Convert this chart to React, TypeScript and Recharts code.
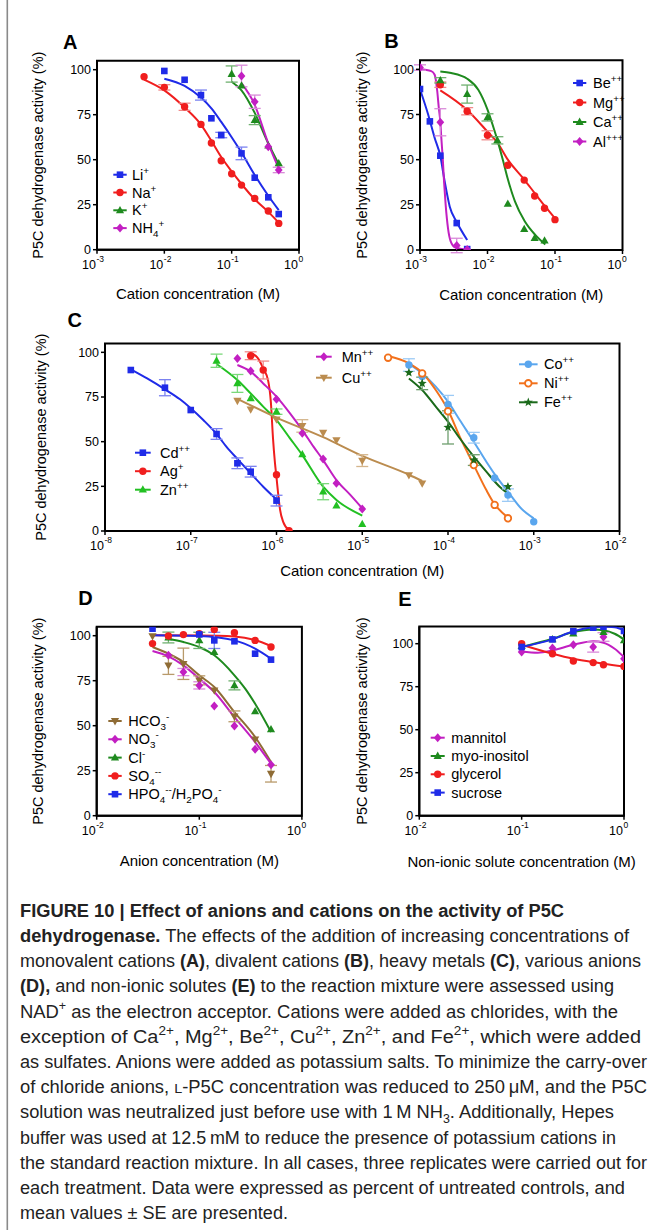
import React from 'react';
import { ComposedChart, Line, Scatter, XAxis, YAxis, ErrorBar, ReferenceArea, Legend } from 'recharts';

const FONT = '"Liberation Sans", Arial, Helvetica, sans-serif';

// ---------- Panel A (monovalent cations) ----------
const A_LI = [[0.01, 99.3], [0.02, 94.4], [0.035, 85.9, 2.8], [0.05, 73.0], [0.07, 63.7, 1.5], [0.14, 53.5, 3.5], [0.22, 40.0], [0.35, 29.1], [0.5, 19.8]];
const A_LI_FIT = [[0.01, 95], [0.02, 91], [0.035, 84.5], [0.05, 78.5], [0.07, 71], [0.1, 62.5], [0.14, 54], [0.22, 41.5], [0.35, 30], [0.5, 22]];
const A_NA = [[0.005, 96.1], [0.01, 90.2, 1.5], [0.02, 79.4, 2], [0.035, 69.6], [0.05, 59.3], [0.07, 49.4], [0.1, 42.2], [0.14, 35.9], [0.22, 28.5], [0.35, 21.5], [0.5, 14.6]];
const A_NA_FIT = [[0.005, 94.5], [0.01, 88.5], [0.02, 79], [0.035, 69.5], [0.05, 60.5], [0.07, 51.5], [0.1, 43.5], [0.14, 36.5], [0.22, 28], [0.35, 21], [0.5, 15]];
const A_K = [[0.1, 97.6, 4.5], [0.14, 91.1], [0.22, 72.0, 2.5], [0.35, 57.8], [0.5, 48.0]];
const A_K_FIT = [[0.1, 93.3], [0.14, 88.5], [0.22, 76], [0.35, 59], [0.5, 47.5]];
const A_NH4 = [[0.14, 96.5, 6], [0.22, 82.2, 3.7], [0.35, 57.2], [0.5, 44.3, 1.5]];
const A_NH4_FIT = [[0.14, 92.5], [0.22, 80.5], [0.35, 59], [0.5, 45]];

// ---------- Panel B (divalent cations) ----------
const B_BE = [[0.001, 89.1], [0.0014, 71.2], [0.002, 52.2], [0.0035, 14.9], [0.005, 0.5]];
const B_BE_FIT = [[0.001, 89], [0.00132, 75], [0.00165, 62], [0.002, 52], [0.00232, 38], [0.00276, 24], [0.0035, 15.5], [0.005, 5.5]];
const B_MG = [[0.002, 91.5, 1.5], [0.005, 76.8, 2], [0.01, 63.5, 2.5], [0.02, 46.9], [0.035, 38.7], [0.05, 29.9], [0.07, 23.1], [0.1, 16.8]];
const B_MG_FIT = [[0.002, 88.4], [0.005, 77.5], [0.01, 65.5], [0.014, 59.5], [0.02, 50], [0.035, 39], [0.05, 31.5], [0.07, 24.5], [0.1, 17.5]];
const B_CA = [[0.002, 93.9, 1.5], [0.005, 86.3, 5], [0.01, 73.4, 2], [0.014, 60.7, 2], [0.02, 25.5], [0.035, 11.6], [0.05, 6.6], [0.07, 5.2]];
const B_CA_FIT = [[0.002, 98.8], [0.0029, 98], [0.005, 94.8], [0.0073, 88.7], [0.01, 77.7], [0.0121, 68.5], [0.0142, 60.1], [0.0171, 49.1], [0.0198, 39.9], [0.0255, 26.9], [0.0356, 15.9], [0.0506, 8.5], [0.0718, 3]];
const B_AL = [[0.001, 101, 1.5], [0.002, 70.7, 7.5], [0.0035, 2.5, 4], [0.005, 0.3]];
const B_AL_FIT = [[0.001, 100], [0.00147, 99], [0.00165, 97], [0.0018, 88], [0.0019, 78.6], [0.002, 71], [0.00207, 62], [0.00217, 51], [0.00227, 38], [0.0024, 25], [0.0026, 12], [0.00285, 4.8], [0.0033, 1.5], [0.005, 0.1]];

// ---------- Panel C (heavy metals) ----------
const C_CD = [[2e-8, 90.1], [5e-8, 80.2, 4.5], [1e-7, 67.7], [2e-7, 54.3, 3], [3.5e-7, 37.9, 3], [5e-7, 33.2, 3], [1e-6, 17.0, 3]];
const C_CD_FIT = [[2e-8, 90.5], [3.1e-8, 85.4], [5e-8, 79.3], [7.5e-8, 73.7], [1e-7, 68.7], [1.4e-7, 62.1], [2e-7, 54.3], [2.6e-7, 47.2], [3.6e-7, 39.7], [5e-7, 32.3], [7e-7, 24.8], [1e-6, 17.7]];
const C_AG = [[5e-7, 98.1, 2.2], [7e-7, 90.1, 5], [1e-6, 31.5], [1.4e-6, 0.2]];
const C_AG_FIT = [[5e-7, 99.5], [6e-7, 97], [7e-7, 91], [8e-7, 84], [8.6e-7, 72], [9.1e-7, 52], [9.6e-7, 38], [1e-6, 30], [1.05e-6, 20], [1.1e-6, 12], [1.2e-6, 5], [1.4e-6, 0.5]];
const C_ZN = [[2e-7, 95.3, 3.7], [3.5e-7, 82.6, 5], [5e-7, 74.3], [1e-6, 66.8, 1.5], [2e-6, 42.9], [3.5e-6, 22.0, 4.5], [5e-6, 14.2], [1e-5, 3.9]];
const C_ZN_FIT = [[2e-7, 93.5], [3.5e-7, 84.5], [5e-7, 77], [7e-7, 69.6], [1e-6, 62.1], [1.43e-6, 52], [2e-6, 42.5], [3.5e-6, 24.8], [5e-6, 17.4], [1e-5, 8.6]];
const C_MN = [[3.5e-7, 96.6], [5e-7, 89.6], [1e-6, 73.7], [2e-6, 54.7], [3.5e-6, 40.3], [5e-6, 26.7], [1e-5, 12.3]];
const C_MN_FIT = [[3.5e-7, 92.9], [5e-7, 89.2], [7e-7, 82.6], [1e-6, 75.2], [1.43e-6, 66], [2e-6, 56.5], [2.7e-6, 47.2], [3.5e-6, 39.7], [5e-6, 28.5], [7.3e-6, 20.1], [1e-5, 12.7]];
const C_CU = [[3.5e-7, 72.9], [5e-7, 68.1], [1e-6, 62.5], [2e-6, 58.8, 3.5], [3.5e-6, 55.0], [5e-6, 50.9], [1e-5, 39.4, 3.3], [3.5e-5, 31.3], [5e-5, 26.7]];
const C_CU_FIT = [[3.5e-7, 74], [1e-6, 63.5], [3.5e-6, 52.5], [1e-5, 42], [3.5e-5, 31.5], [5e-5, 28]];
const C_CO = [[3.5e-5, 92.9, 3.5], [5e-5, 86.5], [1e-4, 70.9, 5], [2e-4, 52.2, 3], [3.5e-4, 29.7], [5e-4, 20.1, 3.5], [1e-3, 5.2]];
const C_CO_FIT = [[3.5e-5, 93.5], [5e-5, 88.2], [7.2e-5, 80.8], [1e-4, 72.4], [1.37e-4, 62.1], [2e-4, 50], [2.8e-4, 38.8], [3.6e-4, 31], [5e-4, 22], [7.1e-4, 12.7], [1e-3, 7.1]];
const C_NI = [[2e-5, 97.0], [5e-5, 88.2], [1e-4, 67], [2e-4, 36.9], [3.5e-4, 14.6], [5e-4, 7.1]];
const C_NI_FIT = [[2e-5, 97.9], [3.5e-5, 93.8], [5e-5, 88.6], [7.2e-5, 78.9], [1e-4, 67.7], [1.37e-4, 52.8], [2e-4, 36.9], [2.8e-4, 22.9], [3.44e-4, 15.5], [5e-4, 7.5]];
const C_FE = [[3.5e-5, 88.6], [5e-5, 82.6, 3.5], [1e-4, 58.0, 9.3], [2e-4, 39.7, 3], [5e-4, 24.8]];
const C_FE_FIT = [[3.5e-5, 85.4], [5e-5, 78.9], [7.2e-5, 69.6], [1e-4, 61.2], [1.37e-4, 51.9], [2e-4, 41.6], [2.8e-4, 33.2], [4e-4, 24.8], [5e-4, 21]];

// ---------- Panel D (anions) ----------
const D_HCO3 = [[0.035, 99.8], [0.05, 83.5, 5], [0.07, 84.4, 8.7], [0.1, 75.2, 2.5], [0.14, 69.6], [0.22, 55.2, 3], [0.35, 42.4], [0.5, 23.3, 4.6]];
const D_HCO3_FIT = [[0.035, 93.7], [0.05, 90], [0.07, 85.4], [0.1, 78], [0.14, 71.5], [0.22, 57.6], [0.35, 43.7], [0.5, 29.8]];
const D_NO3 = [[0.05, 89.1], [0.07, 79.8, 2], [0.1, 72.4, 2], [0.14, 60.9], [0.22, 49.8], [0.35, 36.9], [0.5, 28.3]];
const D_NO3_FIT = [[0.035, 91.5], [0.05, 88.5], [0.07, 83.5], [0.1, 76.1], [0.14, 68.7], [0.22, 54.8], [0.35, 40.9], [0.5, 28.9]];
const D_CL = [[0.05, 99, 3], [0.1, 97.4, 4.5], [0.14, 90.9], [0.22, 72.4, 2.5], [0.35, 58], [0.5, 48]];
const D_CL_FIT = [[0.05, 98.3], [0.07, 96.5], [0.1, 93.7], [0.14, 89.1], [0.22, 78], [0.28, 70.6], [0.35, 62.2], [0.5, 46.5]];
const D_SO4 = [[0.035, 95.6], [0.05, 99.8], [0.07, 100.6], [0.1, 101.1], [0.14, 103.5], [0.22, 101.7], [0.35, 97.4], [0.5, 93.7]];
const D_SO4_FIT = [[0.035, 100.2], [0.1, 100.1], [0.22, 99.6], [0.35, 97.6], [0.5, 94.3]];
const D_HPO4 = [[0.035, 103.9], [0.1, 100.7], [0.14, 97.4, 4.5], [0.22, 96.9], [0.35, 90], [0.5, 86.7]];
const D_HPO4_FIT = [[0.035, 100.2], [0.1, 99.8], [0.22, 97.4], [0.35, 92.8], [0.5, 87.2]];

// ---------- Panel E (non-ionic solutes) ----------
const E_MAN = [[0.1, 95.2], [0.2, 97.5], [0.32, 99.4], [0.5, 98.1, 3], [0.63, 103.9, 2.5], [1, 91.3]];
const E_MAN_FIT = [[0.1, 95.5], [0.144, 94.8], [0.2, 96.1], [0.32, 99.4], [0.5, 101.4], [0.63, 100.6], [0.81, 97.1], [1, 92.2]];
const E_MYO = [[0.1, 98.6], [0.2, 102.5], [0.32, 105.8], [0.5, 109.7], [0.63, 106.8], [1, 101.9]];
const E_MYO_FIT = [[0.1, 98.1], [0.2, 102.9], [0.32, 106.8], [0.5, 108.3], [0.63, 107.8], [0.81, 105.8], [1, 102.5]];
const E_GLY = [[0.1, 100], [0.2, 94.2], [0.32, 89.9], [0.5, 89], [0.63, 87.8], [1, 86.8]];
const E_GLY_FIT = [[0.1, 99.4], [0.2, 94.2], [0.32, 91.3], [0.5, 89.3], [0.63, 88.4], [1, 86.8]];
const E_SUC = [[0.1, 98.1], [0.2, 102.5], [0.32, 107.2], [0.5, 109.3], [0.63, 109.9], [1, 107.4]];
const E_SUC_FIT = [[0.1, 98.1], [0.2, 102.5], [0.32, 107.2], [0.5, 109.6], [0.63, 110], [0.81, 109.6], [1, 107.8]];

// ---------- axis ticks ----------
const TICKS_A = [1e-3, 1e-2, 1e-1, 1];
const TICKS_C = [1e-8, 1e-7, 1e-6, 1e-5, 1e-4, 1e-3, 1e-2];
const TICKS_D = [1e-2, 1e-1, 1];
const Y_TICKS = [0, 25, 50, 75, 100];

type Seg = [string, string?];
type Kind = 'square' | 'circle' | 'tri' | 'triDown' | 'diamond' | 'star' | 'ring';
const toPts = (rows: number[][]) => rows.map(([x, y, e]) => ({ x, y, e }));

const BLUE = '#1f2be8', RED = '#f01e1e', GREEN = '#1e8a1e', MAG = '#c21fc2', ZN = '#22c022', TAN = '#bb8c4f', BROWN = '#8f6c35', LBLUE = '#5aa6ee', ORANGE = '#f2711c', DKGREEN = '#1b6a1b';
const ERR: Record<string, string> = { [BLUE]: '#7b82f0', [RED]: '#f08a8a', [GREEN]: '#6fb06f', [MAG]: '#d98ad9', [ZN]: '#7ad87a', [TAN]: '#d4b58c', [BROWN]: '#b89a6a', [LBLUE]: '#9ccaf5', [ORANGE]: '#f5aa78', [DKGREEN]: '#6e9e6e' };

const ser = (label: Seg[], color: string, shape: Kind, pts: number[][], fit: number[][]) => ({ label, color, shape, pts: toPts(pts), fit: toPts(fit) });

const PANELS = [
  {
    letter: 'A', lx: 63, ly: 49.3,
    box: { left: 0, top: 20, width: 330, height: 290 }, plot: { l: 97, r: 299, t: 60.7, b: 249.7 },
    xDomain: [1e-3, 1], xTicks: TICKS_A, yDomain: [0, 105], yTitleX: 38, xTitleBase: 299.3, xTitle: 'Cation concentration (M)',
    series: [
      ser([['Li'], ['+', 'sup']], BLUE, 'square', A_LI, A_LI_FIT),
      ser([['Na'], ['+', 'sup']], RED, 'circle', A_NA, A_NA_FIT),
      ser([['K'], ['+', 'sup']], GREEN, 'tri', A_K, A_K_FIT),
      ser([['NH'], ['4', 'sub'], ['+', 'sup']], MAG, 'diamond', A_NH4, A_NH4_FIT),
    ],
    legends: [{ idx: [0, 1, 2, 3], x0: 113.3, x1: 126.7, tx: 132, y0: 174.7, dy: 17.8 }],
  },
  {
    letter: 'B', lx: 384.3, ly: 48.3,
    box: { left: 330, top: 20, width: 325, height: 290 }, plot: { l: 420, r: 622.5, t: 60.3, b: 250 },
    xDomain: [1e-3, 1], xTicks: TICKS_A, yDomain: [0, 105], yTitleX: 361.7, xTitleBase: 299.5, xTitle: 'Cation concentration (M)',
    series: [
      ser([['Be'], ['++', 'sup']], BLUE, 'square', B_BE, B_BE_FIT),
      ser([['Mg'], ['++', 'sup']], RED, 'circle', B_MG, B_MG_FIT),
      ser([['Ca'], ['++', 'sup']], GREEN, 'tri', B_CA, B_CA_FIT),
      ser([['Al'], ['+++', 'sup']], MAG, 'diamond', B_AL, B_AL_FIT),
    ],
    legends: [{ idx: [0, 1, 2, 3], x0: 573, x1: 586.3, tx: 593, y0: 83, dy: 19.5 }],
  },
  {
    letter: 'C', lx: 67.6, ly: 326.7,
    box: { left: 0, top: 305, width: 655, height: 280 }, plot: { l: 105, r: 619.5, t: 343.4, b: 531 },
    xDomain: [1e-8, 1e-2], xTicks: TICKS_C, yDomain: [0, 105], yTitleX: 40.5, xTitleBase: 576, xTitle: 'Cation concentration (M)',
    series: [
      ser([['Cd'], ['++', 'sup']], BLUE, 'square', C_CD, C_CD_FIT),
      ser([['Ag'], ['+', 'sup']], RED, 'circle', C_AG, C_AG_FIT),
      ser([['Zn'], ['++', 'sup']], ZN, 'tri', C_ZN, C_ZN_FIT),
      ser([['Mn'], ['++', 'sup']], MAG, 'diamond', C_MN, C_MN_FIT),
      ser([['Cu'], ['++', 'sup']], TAN, 'triDown', C_CU, C_CU_FIT),
      ser([['Co'], ['++', 'sup']], LBLUE, 'circle', C_CO, C_CO_FIT),
      ser([['Ni'], ['++', 'sup']], ORANGE, 'ring', C_NI, C_NI_FIT),
      ser([['Fe'], ['++', 'sup']], DKGREEN, 'star', C_FE, C_FE_FIT),
    ],
    legends: [
      { idx: [0, 1, 2], x0: 135, x1: 150.7, tx: 160, y0: 452.7, dy: 18.5 },
      { idx: [3, 4], x0: 316, x1: 331.7, tx: 341.7, y0: 356.7, dy: 21 },
      { idx: [5, 6, 7], x0: 519, x1: 537.6, tx: 544, y0: 364.3, dy: 19 },
    ],
  },
  {
    letter: 'D', lx: 78.3, ly: 605,
    box: { left: 0, top: 585, width: 330, height: 285 }, plot: { l: 96.7, r: 301.9, t: 626.7, b: 815.7 },
    xDomain: [1e-2, 1], xTicks: TICKS_D, yDomain: [0, 105], yTitleX: 38.3, xTitleBase: 865.7, xTitle: 'Anion concentration (M)',
    series: [
      ser([['HCO'], ['3', 'sub'], ['-', 'sup']], BROWN, 'triDown', D_HCO3, D_HCO3_FIT),
      ser([['NO'], ['3', 'sub'], ['-', 'sup']], MAG, 'diamond', D_NO3, D_NO3_FIT),
      ser([['Cl'], ['-', 'sup']], GREEN, 'tri', D_CL, D_CL_FIT),
      ser([['SO'], ['4', 'sub'], ['--', 'sup']], RED, 'circle', D_SO4, D_SO4_FIT),
      ser([['HPO'], ['4', 'sub'], ['--', 'sup'], ['/H'], ['2', 'sub'], ['PO'], ['4', 'sub'], ['-', 'sup']], BLUE, 'square', D_HPO4, D_HPO4_FIT),
    ],
    legends: [{ idx: [0, 1, 2, 3, 4], x0: 108.3, x1: 121.7, tx: 128.3, y0: 721, dy: 18.3 }],
  },
  {
    letter: 'E', lx: 398.3, ly: 605.7,
    box: { left: 330, top: 585, width: 325, height: 285 }, plot: { l: 419.3, r: 624, t: 626.5, b: 815.7 },
    xDomain: [1e-2, 1], xTicks: TICKS_D, yDomain: [0, 110], yTitleX: 362.3, xTitleBase: 866.5, xTitle: 'Non-ionic solute concentration (M)',
    series: [
      ser([['mannitol']], MAG, 'diamond', E_MAN, E_MAN_FIT),
      ser([['myo-inositol']], GREEN, 'tri', E_MYO, E_MYO_FIT),
      ser([['glycerol']], RED, 'circle', E_GLY, E_GLY_FIT),
      ser([['sucrose']], BLUE, 'square', E_SUC, E_SUC_FIT),
    ],
    legends: [{ idx: [0, 1, 2, 3], x0: 430.7, x1: 444.7, tx: 451.3, y0: 737.7, dy: 18.3 }],
  },
];

// ---------- caption ----------
const CAPTION: Seg[][] = [
  [['FIGURE 10 | Effect of anions and cations on the activity of P5C', 'b']],
  [['dehydrogenase.', 'b'], [' The effects of the addition of increasing concentrations of']],
  [['monovalent cations '], ['(A)', 'b'], [', divalent cations '], ['(B)', 'b'], [', heavy metals '], ['(C)', 'b'], [', various anions']],
  [['(D),', 'b'], [' and non-ionic solutes '], ['(E)', 'b'], [' to the reaction mixture were assessed using']],
  [['NAD'], ['+', 'sup'], [' as the electron acceptor. Cations were added as chlorides, with the']],
  [['exception of Ca'], ['2+', 'sup'], [', Mg'], ['2+', 'sup'], [', Be'], ['2+', 'sup'], [', Cu'], ['2+', 'sup'], [', Zn'], ['2+', 'sup'], [', and Fe'], ['2+', 'sup'], [', which were added']],
  [['as sulfates. Anions were added as potassium salts. To minimize the carry-over']],
  [['of chloride anions, '], ['L', 'sc'], ['-P5C concentration was reduced to 250\u2009\u03bcM, and the P5C']],
  [['solution was neutralized just before use with 1\u2009M NH'], ['3', 'sub'], ['. Additionally, Hepes']],
  [['buffer was used at 12.5\u2009mM to reduce the presence of potassium cations in']],
  [['the standard reaction mixture. In all cases, three replicates were carried out for']],
  [['each treatment. Data were expressed as percent of untreated controls, and']],
  [['mean values \u00b1 SE are presented.']],
];
const CAPTION_WIDTHS = [544, 609, 621, 594, 598, 621, 627, 627, 594, 596, 627, 605, 268];

function rich(segs: Seg[], fs: number) {
  let shift = 0;
  return segs.map(([t, k], i) => {
    const target = k === 'sup' ? -0.42 * fs : k === 'sub' ? 0.25 * fs : 0;
    const dy = target - shift;
    shift = target;
    const small = k === 'sup' || k === 'sub';
    return (
      <tspan key={i} dy={dy} fontSize={small ? fs * 0.68 : k === 'sc' ? fs * 0.78 : fs} fontWeight={k === 'b' ? 'bold' : undefined}>
        {t}
      </tspan>
    );
  });
}

function Mark({ cx, cy, kind, color }: { cx: number; cy: number; kind: Kind; color: string }) {
  if (cx == null || cy == null || isNaN(cx) || isNaN(cy)) return null;
  switch (kind) {
    case 'square':
      return <rect x={cx - 3.3} y={cy - 3.3} width={6.6} height={6.6} fill={color} />;
    case 'circle':
      return <circle cx={cx} cy={cy} r={3.7} fill={color} />;
    case 'ring':
      return <circle cx={cx} cy={cy} r={3.3} fill="#fff" stroke={color} strokeWidth={1.8} />;
    case 'tri':
      return <polygon points={`${cx},${cy - 4.4} ${cx + 4.1},${cy + 2.9} ${cx - 4.1},${cy + 2.9}`} fill={color} />;
    case 'triDown':
      return <polygon points={`${cx},${cy + 4.4} ${cx + 4.1},${cy - 2.9} ${cx - 4.1},${cy - 2.9}`} fill={color} />;
    case 'diamond':
      return <polygon points={`${cx},${cy - 4.5} ${cx + 3.9},${cy} ${cx},${cy + 4.5} ${cx - 3.9},${cy}`} fill={color} />;
    case 'star': {
      const p: string[] = [];
      for (let k = 0; k < 10; k++) {
        const a = -Math.PI / 2 + (k * Math.PI) / 5;
        const rr = k % 2 === 0 ? 4.8 : 2.0;
        p.push(`${cx + rr * Math.cos(a)},${cy + rr * Math.sin(a)}`);
      }
      return <polygon points={p.join(' ')} fill={color} />;
    }
  }
  return null;
}

const TICK_FS = 12.5;

const LogTick = (props: any) => {
  const { x, y, payload } = props;
  const exp = Math.round(Math.log10(payload.value));
  return (
    <g>
      <text x={x - 1} y={y + 12.8} textAnchor="end" fontSize={TICK_FS} fill="#000" fontFamily={FONT}>10</text>
      <text x={x - 0.5} y={y + 6.3} textAnchor="start" fontSize={8.5} fill="#000" fontFamily={FONT}>{exp === 0 ? '0' : String(exp)}</text>
    </g>
  );
};

function Panel({ cfg }: { cfg: any }) {
  const { box, plot } = cfg;
  const W = box.width;
  const H = box.height;
  const yAxisW = plot.l - box.left;
  const xAxisH = box.top + H - plot.b - 2;
  const margin = { top: plot.t - box.top, right: box.left + W - plot.r, left: 0, bottom: 2 };
  const textStyle = { fontFamily: FONT, fill: '#000' };
  return (
    <div style={{ position: 'absolute', left: box.left, top: box.top, width: W, height: H }}>
      <ComposedChart width={W} height={H} margin={margin}>
        <XAxis
          xAxisId={0}
          dataKey="x"
          type="number"
          scale="log"
          domain={cfg.xDomain}
          ticks={cfg.xTicks}
          allowDataOverflow
          interval={0}
          height={xAxisH}
          tickSize={4}
          tickMargin={2}
          tick={<LogTick />}
          axisLine={{ stroke: '#000', strokeWidth: 2 }}
          tickLine={{ stroke: '#000', strokeWidth: 1.5 }}
          label={{ value: cfg.xTitle, position: 'insideBottom', offset: plot.b + xAxisH - cfg.xTitleBase, style: { ...textStyle, fontSize: 15 } }}
        />
        <YAxis
          yAxisId={0}
          dataKey="y"
          type="number"
          domain={cfg.yDomain}
          ticks={Y_TICKS}
          allowDataOverflow
          interval={0}
          width={yAxisW}
          tickSize={4}
          tickMargin={2}
          tick={{ fontSize: TICK_FS, fill: '#000', fontFamily: FONT }}
          axisLine={{ stroke: '#000', strokeWidth: 2 }}
          tickLine={{ stroke: '#000', strokeWidth: 1.5 }}
          label={{ value: 'P5C dehydrogenase activity (%)', angle: -90, position: 'insideLeft', offset: cfg.yTitleX - box.left, textAnchor: 'middle', style: { ...textStyle, fontSize: 14.5, textAnchor: 'middle' } }}
        />
        <ReferenceArea x1={cfg.xDomain[0]} x2={cfg.xDomain[1]} y1={cfg.yDomain[0]} y2={cfg.yDomain[1]} fill="none" stroke="#000" strokeWidth={2} ifOverflow="visible" />
        {cfg.series.map((s: any, i: number) => (
          <Line key={`l${i}`} data={s.fit} dataKey="y" type="monotone" stroke={s.color} strokeWidth={2} dot={false} activeDot={false} isAnimationActive={false} legendType="none" />
        ))}
        {cfg.series.map((s: any, i: number) => (
          <Scatter
            key={`s${i}`}
            data={s.pts}
            dataKey="y"
            isAnimationActive={false}
            legendType="none"
            shape={(p: any) => <Mark cx={p.cx} cy={p.cy} kind={s.shape} color={s.color} />}
          >
            <ErrorBar dataKey="e" direction="y" width={6} stroke={ERR[s.color]} strokeWidth={1.3} />
          </Scatter>
        ))}
        <Legend
          layout="vertical"
          align="center"
          verticalAlign="middle"
          wrapperStyle={{ left: 0, top: 0, width: W, height: H, pointerEvents: 'none' }}
          content={() => (
            <svg width={W} height={H} style={{ position: 'absolute', left: 0, top: 0, overflow: 'visible' }}>
              {cfg.legends.map((lg: any, gi: number) =>
                lg.idx.map((si: number, k: number) => {
                  const s = cfg.series[si];
                  const y = lg.y0 + k * lg.dy - box.top;
                  const x0 = lg.x0 - box.left;
                  const x1 = lg.x1 - box.left;
                  return (
                    <g key={`${gi}-${k}`}>
                      <line x1={x0} x2={x1} y1={y} y2={y} stroke={s.color} strokeWidth={2} />
                      <Mark cx={(x0 + x1) / 2} cy={y} kind={s.shape} color={s.color} />
                      <text x={lg.tx - box.left} y={y + 5.1} fontSize={14.5} fontFamily={FONT} fill="#000">
                        {rich(s.label, 14.5)}
                      </text>
                    </g>
                  );
                })
              )}
            </svg>
          )}
        />
      </ComposedChart>
    </div>
  );
}

export default function App() {
  return (
    <div style={{ position: 'absolute', left: 0, top: 0, width: 655, height: 1230, background: '#fff', overflow: 'hidden', fontFamily: FONT }}>
      {PANELS.map((p) => (
        <Panel key={p.letter} cfg={p} />
      ))}
      <svg width={655} height={1230} style={{ position: 'absolute', left: 0, top: 0, pointerEvents: 'none' }}>
        <rect x={6.5} y={0} width={1.6} height={1230} fill="#8a8a8a" />
        {PANELS.map((p) => (
          <text key={p.letter} x={p.lx} y={p.ly} fontSize={20} fontWeight="bold" fontFamily={FONT} fill="#000">
            {p.letter}
          </text>
        ))}
        {CAPTION.map((line, i) => (
          <text key={i} x={20} y={916.7 + i * 25.2} fontSize={17.5} fontFamily={FONT} fill="#222" textLength={CAPTION_WIDTHS[i]} lengthAdjust="spacingAndGlyphs">
            {rich(line, 17.5)}
          </text>
        ))}
      </svg>
    </div>
  );
}
